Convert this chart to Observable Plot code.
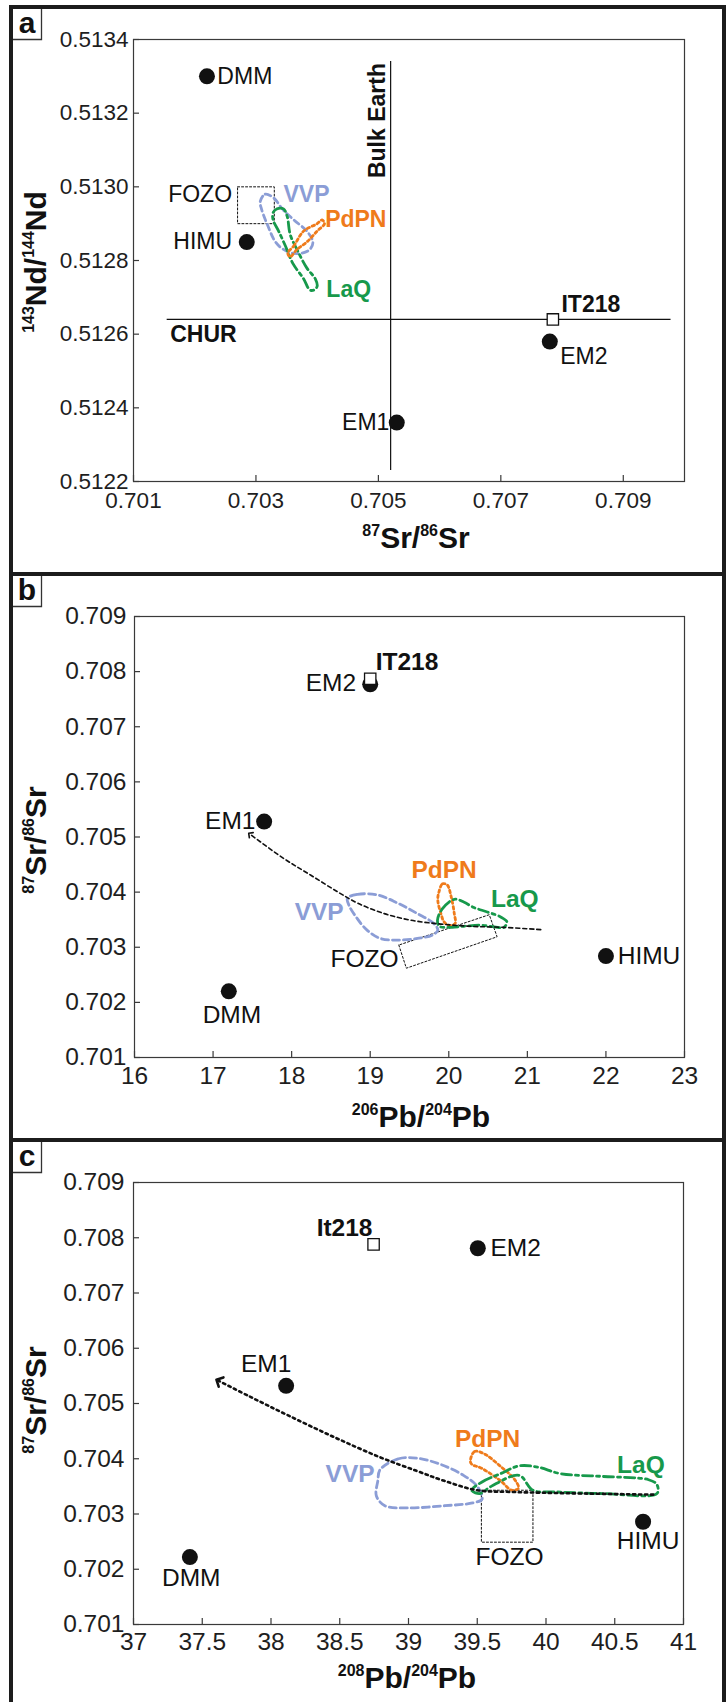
<!DOCTYPE html>
<html><head><meta charset="utf-8">
<script src="https://cdn.jsdelivr.net/npm/d3@7"></script>
<script src="https://cdn.jsdelivr.net/npm/@observablehq/plot@0.6"></script>
<style>
body{margin:0;background:#fff;}
#page{position:relative;width:726px;height:1702px;overflow:hidden;}
.panel{position:absolute;left:0;}
.bar{position:absolute;background:#1c1c1c;}
svg marker path{stroke-dasharray:none;}
</style></head>
<body><div id="page">
<div class="panel" id="pa" style="top:0"></div>
<div class="panel" id="pb" style="top:576px"></div>
<div class="panel" id="pc" style="top:1142px"></div>
<div class="bar" style="left:9px;top:5px;width:717px;height:4px"></div>
<div class="bar" style="left:9px;top:5px;width:4px;height:1697px"></div>
<div class="bar" style="left:722px;top:5px;width:4px;height:1697px"></div>
<div class="bar" style="left:9px;top:572px;width:717px;height:4px"></div>
<div class="bar" style="left:9px;top:1138px;width:717px;height:4px"></div>
</div>
<script>
const FONT = "'Liberation Sans', Arial, Helvetica, sans-serif";
const COL = {VVP: "#8b9dd6", PdPN: "#ef7b1b", LaQ: "#17994b", ink: "#111111"};

// ---------------- Panel a : 87Sr/86Sr vs 143Nd/144Nd ----------------
const aXTicks = [0.701, 0.703, 0.705, 0.707, 0.709];
const aYTicks = [0.5122, 0.5124, 0.5126, 0.5128, 0.5130, 0.5132, 0.5134];
const aEnd = [
  {name: "DMM", x: 0.7022, y: 0.5133},
  {name: "HIMU", x: 0.70285, y: 0.51285},
  {name: "EM1", x: 0.7053, y: 0.51236},
  {name: "EM2", x: 0.7078, y: 0.51258}
];
const aIT218 = [{x: 0.70785, y: 0.51264}];
const aCHUR = [{y: 0.51264, x1: 0.70155, x2: 0.70978}];
const aBulkEarth = [{x: 0.7052, y1: 0.51223, y2: 0.51334}];
const aFOZO = [[0.7027, 0.5130], [0.7033, 0.5130], [0.7033, 0.5129], [0.7027, 0.5129]];
const aVVP = [[0.70307,0.51296],[0.70315,0.51298],[0.70329,0.51297],[0.70343,0.51294],[0.70362,0.51291],[0.70383,0.51288],[0.70393,0.51285],[0.70388,0.51283],[0.70375,0.51282],[0.70359,0.51282],[0.70345,0.51283],[0.70332,0.51285],[0.70318,0.51290],[0.70309,0.51294]];
const aLaQ = [[0.70328,0.51293],[0.70334,0.51294],[0.70345,0.51294],[0.70351,0.51292],[0.70356,0.51287],[0.70367,0.51283],[0.70383,0.51278],[0.70397,0.51275],[0.70400,0.51273],[0.70395,0.51272],[0.70388,0.51272],[0.70378,0.51275],[0.70361,0.51279],[0.70348,0.51284],[0.70337,0.51288],[0.70328,0.51291]];
const aPdPN = [[0.70352,0.51282],[0.70362,0.51284],[0.70378,0.51288],[0.70400,0.51290],[0.70408,0.51291],[0.70412,0.51290],[0.70400,0.51288],[0.70383,0.51285],[0.70367,0.51283],[0.70356,0.51281]];
const aLabels = [
  {text: "DMM", x: 0.70237, y: 0.51330, anchor: "start"},
  {text: "HIMU", x: 0.70261, y: 0.51285, anchor: "end"},
  {text: "FOZO", x: 0.70261, y: 0.51298, anchor: "end"},
  {text: "EM1", x: 0.70518, y: 0.51236, anchor: "end"},
  {text: "EM2", x: 0.70797, y: 0.51254, anchor: "start"}
];
const aBold = [
  {text: "IT218", x: 0.70799, y: 0.51268, anchor: "start"},
  {text: "CHUR", x: 0.70160, y: 0.51260, anchor: "start"}
];
const aFieldLabels = [
  {text: "VVP", x: 0.70345, y: 0.51298, anchor: "start", color: COL.VVP},
  {text: "PdPN", x: 0.70413, y: 0.51291, anchor: "start", color: COL.PdPN},
  {text: "LaQ", x: 0.70415, y: 0.51272, anchor: "start", color: COL.LaQ}
];
const aBulkLabel = [{text: "Bulk Earth", x: 0.70499, y: 0.51318}];

// ---------------- Panel b : 206Pb/204Pb vs 87Sr/86Sr ----------------
const bXTicks = [16, 17, 18, 19, 20, 21, 22, 23];
const srTicks = [0.701, 0.702, 0.703, 0.704, 0.705, 0.706, 0.707, 0.708, 0.709];
const bEnd = [
  {name: "DMM", x: 17.2, y: 0.7022},
  {name: "EM1", x: 17.65, y: 0.70528},
  {name: "EM2", x: 19.0, y: 0.70777},
  {name: "HIMU", x: 22.0, y: 0.70284}
];
const bIT218 = [{x: 19.0, y: 0.70787}];
const bFOZO = [[19.364,0.70304],[19.46,0.70262],[20.615,0.70319],[20.515,0.70359]];
const bTrend = [[21.17,0.70332],[20.70,0.70336],[20.28,0.70338],[19.90,0.70342],[19.52,0.70349],[19.18,0.70361],[18.84,0.70380],[18.58,0.70401],[18.24,0.70431],[17.90,0.70461],[17.47,0.70505]];
const bVVP = [[18.71,0.70389],[18.84,0.70396],[19.09,0.70395],[19.35,0.70380],[19.60,0.70361],[19.81,0.70343],[19.86,0.70331],[19.79,0.70322],[19.60,0.70316],[19.35,0.70313],[19.13,0.70316],[18.96,0.70331],[18.82,0.70355],[18.73,0.70376]];
const bPdPN = [[19.876,0.70401],[19.92,0.70415],[19.98,0.70413],[20.03,0.70392],[20.07,0.70361],[20.08,0.70343],[20.00,0.70340],[19.94,0.70346],[19.90,0.70361],[19.86,0.70386]];
const bLaQ = [[19.856,0.70349],[19.92,0.70370],[20.07,0.70387],[20.19,0.70382],[20.32,0.70372],[20.49,0.70364],[20.66,0.70355],[20.74,0.70346],[20.70,0.70336],[20.58,0.70337],[20.40,0.70340],[20.19,0.70338],[19.98,0.70336],[19.88,0.70338]];
const bLabels = [
  {text: "EM2", x: 18.82, y: 0.70779, anchor: "end"},
  {text: "EM1", x: 17.54, y: 0.70529, anchor: "end"},
  {text: "DMM", x: 17.24, y: 0.70177, anchor: "middle"},
  {text: "HIMU", x: 22.15, y: 0.70284, anchor: "start"},
  {text: "FOZO", x: 19.36, y: 0.70279, anchor: "end"}
];
const bBold = [{text: "IT218", x: 19.07, y: 0.70818, anchor: "start"}];
const bFieldLabels = [
  {text: "VVP", x: 18.35, y: 0.70363, anchor: "middle", color: COL.VVP},
  {text: "PdPN", x: 19.94, y: 0.70439, anchor: "middle", color: COL.PdPN},
  {text: "LaQ", x: 20.84, y: 0.70387, anchor: "middle", color: COL.LaQ}
];

// ---------------- Panel c : 208Pb/204Pb vs 87Sr/86Sr ----------------
const cXTicks = [37, 37.5, 38, 38.5, 39, 39.5, 40, 40.5, 41];
const cEnd = [
  {name: "DMM", x: 37.41, y: 0.70222},
  {name: "EM1", x: 38.11, y: 0.70532},
  {name: "EM2", x: 39.504, y: 0.70781},
  {name: "HIMU", x: 40.706, y: 0.70286}
];
const cIT218 = [{x: 38.746, y: 0.70788}];
const cFOZO = [[39.53,0.70343],[39.905,0.70343],[39.905,0.70249],[39.53,0.70249]];
const cTrend = [[40.78,0.70335],[40.07,0.70338],[39.74,0.70340],[39.50,0.70343],[39.26,0.70360],[39.06,0.70378],[38.79,0.70403],[38.46,0.70439],[38.12,0.70479],[37.85,0.70512],[37.62,0.70541]];
const cVVP = [[38.793,0.70380],[38.928,0.70400],[39.063,0.70401],[39.231,0.70390],[39.40,0.70370],[39.50,0.70350],[39.535,0.70327],[39.467,0.70320],[39.265,0.70315],[38.996,0.70311],[38.828,0.70315],[38.766,0.70333],[38.777,0.70360]];
const cPdPN = [[39.45,0.70396],[39.48,0.70413],[39.55,0.70409],[39.67,0.70386],[39.77,0.70363],[39.80,0.70347],[39.75,0.70343],[39.67,0.70360],[39.53,0.70383],[39.46,0.70390]];
const cLaQ = [[39.460,0.70343],[39.535,0.70358],[39.669,0.70373],[39.804,0.70387],[39.938,0.70385],[40.107,0.70373],[40.410,0.70368],[40.746,0.70362],[40.807,0.70353],[40.807,0.70337],[40.410,0.70337],[40.073,0.70340],[39.905,0.70343],[39.804,0.70370],[39.601,0.70350],[39.518,0.70337]];
const cLabels = [
  {text: "EM2", x: 39.596, y: 0.70781, anchor: "start"},
  {text: "EM1", x: 37.965, y: 0.70571, anchor: "middle"},
  {text: "DMM", x: 37.42, y: 0.70184, anchor: "middle"},
  {text: "HIMU", x: 40.743, y: 0.70251, anchor: "middle"},
  {text: "FOZO", x: 39.735, y: 0.70221, anchor: "middle"}
];
const cBold = [{text: "It218", x: 38.738, y: 0.70817, anchor: "end"}];
const cFieldLabels = [
  {text: "VVP", x: 38.575, y: 0.70373, anchor: "middle", color: COL.VVP},
  {text: "PdPN", x: 39.575, y: 0.70436, anchor: "middle", color: COL.PdPN},
  {text: "LaQ", x: 40.69, y: 0.70389, anchor: "middle", color: COL.LaQ}
];

// ---------------- helpers ----------------
const px = d => d[0], py = d => d[1];
function fieldLine(pts, color, dash, width = 2.8, curve = "catmull-rom-closed") {
  return Plot.line(pts, {x: px, y: py, curve, stroke: color, strokeWidth: width, strokeDasharray: dash, fill: "none"});
}
function textMarks(arr, weight, size) {
  return ["start", "middle", "end"].map(a => Plot.text(arr.filter(d => d.anchor === a), {
    x: "x", y: "y", text: "text", textAnchor: a, fontSize: size, fontFamily: FONT,
    fontWeight: weight, fill: d => d.color || COL.ink
  }));
}
function endMarks(pts) {
  return Plot.dot(pts, {x: "x", y: "y", r: 8, fill: COL.ink, stroke: "none"});
}
function squareMark(pts) {
  return Plot.dot(pts, {x: "x", y: "y", r: 6.4, symbol: "square", fill: "#fff", stroke: "#111", strokeWidth: 1.3});
}
function addTitle(svg, x, y, parts, rotate) {
  const t = d3.select(svg).append("text")
    .attr("font-family", FONT).attr("font-weight", "bold").attr("fill", "#111")
    .attr("text-anchor", "middle")
    .attr("transform", `translate(${x},${y})` + (rotate ? " rotate(-90)" : ""));
  let first = true;
  parts.forEach(([s, sup]) => {
    if (sup) t.append("tspan").attr("font-size", 16).attr("dy", first ? -12 : -12).text(s);
    else t.append("tspan").attr("font-size", 30).attr("dy", 12).text(s);
    first = false;
  });
}
function addTag(svg, letter, top) {
  const g = d3.select(svg).append("g");
  g.append("rect").attr("x", 13).attr("y", top).attr("width", 29).attr("height", 30).attr("fill", "#fff");
  g.append("path").attr("d", `M41.5,${top}V${top + 30.5}H13`).attr("fill", "none").attr("stroke", "#333").attr("stroke-width", 1.3);
  g.append("text").attr("x", 27).attr("y", top + 23.5).attr("text-anchor", "middle")
    .attr("font-family", FONT).attr("font-weight", "bold").attr("font-size", 30).attr("fill", "#111").text(letter);
}

function build({el, height, mt, mb, ml, mr, xDomain, yDomain, xTicks, yTicks, xFmt, yFmt, yPad, xPad, tickFont, marks}) {
  const W = 726;
  const plotH = height - mt - mb, plotW = W - ml - mr;
  const svg = Plot.plot({
    width: W, height, marginTop: mt, marginBottom: mb, marginLeft: ml, marginRight: mr,
    style: {fontFamily: FONT, background: "transparent", overflow: "visible"},
    x: {domain: xDomain}, y: {domain: yDomain}, color: {type: "identity"},
    marks: [
      Plot.frame({stroke: "#3a3a3a", strokeWidth: 1.2}),
      Plot.tickX(xTicks, {x: d => d, insetTop: plotH - 6, stroke: "#3a3a3a", strokeWidth: 1.2}),
      Plot.tickY(yTicks, {y: d => d, insetRight: plotW - 6, stroke: "#3a3a3a", strokeWidth: 1.2}),
      Plot.axisX({ticks: xTicks, tickSize: 0, tickPadding: xPad, tickFormat: xFmt, fontSize: tickFont, label: null, fill: "#1e1e1e"}),
      Plot.axisY({ticks: yTicks, tickSize: 0, tickPadding: yPad, tickFormat: yFmt, fontSize: tickFont, label: null, fill: "#1e1e1e"}),
      ...marks
    ]
  });
  document.getElementById(el).appendChild(svg);
  return svg;
}

// ---------------- Panel a ----------------
const svgA = build({
  el: "pa", height: 572, mt: 39, mb: 91, ml: 133, mr: 42,
  xDomain: [0.701, 0.710], yDomain: [0.5122, 0.5134],
  xTicks: aXTicks, yTicks: aYTicks, xFmt: d3.format(".3f"), yFmt: d3.format(".4f"), yPad: 5, xPad: 11, tickFont: 22.5,
  marks: [
    Plot.ruleY(aCHUR, {y: "y", x1: "x1", x2: "x2", stroke: "#111", strokeWidth: 1.2}),
    Plot.ruleX(aBulkEarth, {x: "x", y1: "y1", y2: "y2", stroke: "#111", strokeWidth: 1.2}),
    fieldLine(aFOZO, "#111", "2,2", 1, "linear-closed"),
    fieldLine(aVVP, COL.VVP, "6,4"),
    fieldLine(aLaQ, COL.LaQ, "10,4,3,4"),
    fieldLine(aPdPN, COL.PdPN, "2.5,3"),
    endMarks(aEnd),
    squareMark(aIT218),
    ...textMarks(aLabels, "normal", 23),
    ...textMarks(aBold, "bold", 23),
    ...textMarks(aFieldLabels, "bold", 23),
    Plot.text(aBulkLabel, {x: "x", y: "y", text: "text", rotate: -90, fontSize: 23, fontWeight: "bold", fontFamily: FONT, fill: COL.ink})
  ]
});
addTitle(svgA, 416, 548, [["87", 1], ["Sr/"], ["86", 1], ["Sr"]], false);
addTitle(svgA, 46, 262, [["143", 1], ["Nd/"], ["144", 1], ["Nd"]], true);
addTag(svgA, "a", 9);

// ---------------- Panel b ----------------
const svgB = build({
  el: "pb", height: 562, mt: 40, mb: 81, ml: 134, mr: 42,
  xDomain: [16, 23], yDomain: [0.701, 0.709],
  xTicks: bXTicks, yTicks: srTicks, xFmt: d3.format("d"), yFmt: d3.format(".3f"), yPad: 8, xPad: 9, tickFont: 24.5,
  marks: [
    fieldLine(bFOZO, "#111", "2,2", 1, "linear-closed"),
    fieldLine(bVVP, COL.VVP, "7,4"),
    fieldLine(bPdPN, COL.PdPN, "2.5,3"),
    fieldLine(bLaQ, COL.LaQ, "10,4,3,4"),
    Plot.line(bTrend, {x: px, y: py, curve: "catmull-rom", stroke: "#111", strokeWidth: 1.6, strokeDasharray: "4,3", markerEnd: "arrow"}),
    endMarks(bEnd),
    squareMark(bIT218),
    ...textMarks(bLabels, "normal", 24.5),
    ...textMarks(bBold, "bold", 24.5),
    ...textMarks(bFieldLabels, "bold", 24.5)
  ]
});
addTitle(svgB, 421, 551, [["206", 1], ["Pb/"], ["204", 1], ["Pb"]], false);
addTitle(svgB, 46, 264, [["87", 1], ["Sr/"], ["86", 1], ["Sr"]], true);
addTag(svgB, "b", 0);

// ---------------- Panel c ----------------
const svgC = build({
  el: "pc", height: 560, mt: 40, mb: 78, ml: 133, mr: 43,
  xDomain: [37, 41], yDomain: [0.701, 0.709],
  xTicks: cXTicks, yTicks: srTicks, xFmt: d => String(d), yFmt: d3.format(".3f"), yPad: 9, xPad: 8, tickFont: 24.5,
  marks: [
    fieldLine(cFOZO, "#111", "2,2", 1, "linear-closed"),
    fieldLine(cVVP, COL.VVP, "7,4"),
    fieldLine(cPdPN, COL.PdPN, "2.5,3"),
    fieldLine(cLaQ, COL.LaQ, "10,4,3,4"),
    Plot.line(cTrend, {x: px, y: py, curve: "catmull-rom", stroke: "#111", strokeWidth: 2.6, strokeDasharray: "2.4,3.6", markerEnd: "arrow"}),
    endMarks(cEnd),
    squareMark(cIT218),
    ...textMarks(cLabels, "normal", 24.5),
    ...textMarks(cBold, "bold", 24.5),
    ...textMarks(cFieldLabels, "bold", 24.5)
  ]
});
addTitle(svgC, 407, 546, [["208", 1], ["Pb/"], ["204", 1], ["Pb"]], false);
addTitle(svgC, 46, 258, [["87", 1], ["Sr/"], ["86", 1], ["Sr"]], true);
addTag(svgC, "c", 0);
</script>
</body></html>
